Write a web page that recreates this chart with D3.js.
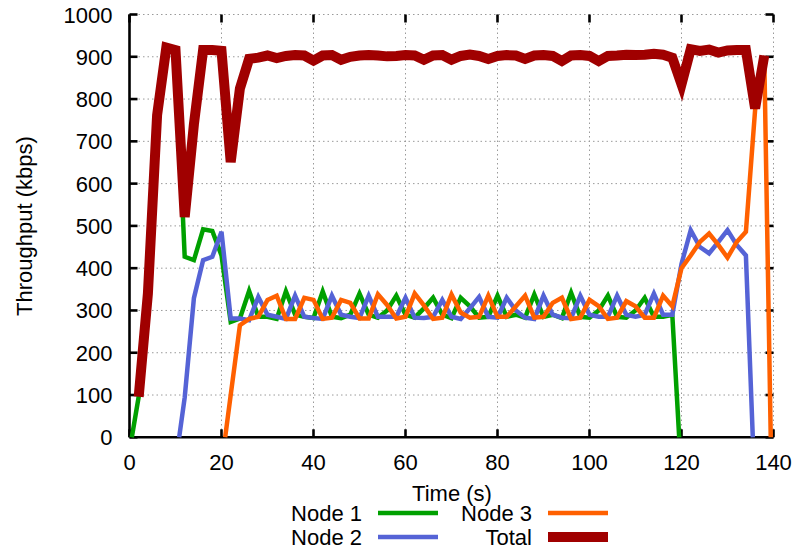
<!DOCTYPE html>
<html>
<head>
<meta charset="utf-8">
<script src="https://cdn.jsdelivr.net/npm/d3@7"></script>
<style>
  body { margin: 0; background: #fff; }
  text { font-family: "Liberation Sans", Arial, sans-serif; fill: #000; }
</style>
</head>
<body>
<div id="chart-area"></div>
<script>
// sample times (s), one every 2 s
var time = [0, 2, 4, 6, 8, 10, 12, 14, 16, 18, 20, 22, 24, 26, 28, 30, 32, 34, 36, 38,
    40, 42, 44, 46, 48, 50, 52, 54, 56, 58, 60, 62, 64, 66, 68, 70, 72, 74, 76, 78,
    80, 82, 84, 86, 88, 90, 92, 94, 96, 98, 100, 102, 104, 106, 108, 110, 112, 114, 116, 118,
    120, 122, 124, 126, 128, 130, 132, 134, 136, 138, 140];

// throughput (kbps), null = node not sending
var node1 = [null, 96, 340, 762, 922, 916, 427, 419, 492, 488, 430, 273, 281, 346, 285, 285, 280, 345, 290, 285,
    282, 345, 285, 282, 290, 340, 290, 283, 300, 335, 290, 283, 305, 330, 290, 282, 330, 310, 283, 285,
    335, 285, 290, 283, 338, 285, 290, 282, 342, 285, 283, 300, 335, 285, 283, 300, 330, 285, 285, 290,
    null, null, null, null, null, null, null, null, null, null, null];
var node2 = [null, null, null, null, null, null, 94, 329, 419, 427, 486, 281, 281, 277, 332, 290, 285, 280, 335, 285,
    282, 280, 335, 290, 285, 282, 335, 285, 285, 285, 330, 283, 282, 285, 325, 285, 280, 305, 332, 285,
    283, 330, 300, 283, 280, 335, 290, 283, 282, 335, 290, 285, 285, 335, 290, 285, 290, 340, 290, 290,
    410, 490, 450, 435, 462, 490, 455, 430, null, null, null];
var node3 = [null, null, null, null, null, null, null, null, null, null, null, 100, 265, 280, 285, 325, 335, 280, 280, 330,
    325, 280, 283, 325, 318, 281, 281, 338, 313, 281, 285, 340, 312, 280, 283, 338, 295, 283, 285, 335,
    285, 285, 310, 335, 283, 285, 318, 330, 280, 283, 325, 310, 280, 283, 322, 310, 283, 283, 335, 310,
    400, 430, 462, 482, 455, 425, 462, 486, 774, 895, null];
var total = [null, 96, 340, 762, 922, 916, 521, 740, 916, 916, 914, 651, 825, 895, 898, 903, 897, 902, 904, 903,
    891, 903, 904, 893, 900, 903, 904, 903, 901, 902, 904, 903, 893, 903, 904, 893, 902, 905, 902, 895,
    902, 904, 903, 895, 903, 904, 902, 890, 903, 904, 902, 890, 902, 903, 905, 904, 905, 907, 905, 898,
    835, 918, 914, 917, 910, 915, 916, 916, 778, 903, null];

// time where each node's trace leaves / returns to zero
var startTimes = [0.5, 10.8, 20.8];
var stopTimes = [119.5, 135.5, 139.4];

var names = ["Node 1", "Node 2", "Node 3", "Total"];
var colors = ["#00a000", "#5563d6", "#ff6000", "#a00000"];

var xTicks = [0, 20, 40, 60, 80, 100, 120, 140];
var yTicks = [0, 100, 200, 300, 400, 500, 600, 700, 800, 900, 1000];

var W = 798, H = 551;
var plotL = 129.5, plotR = 773.5, plotT = 14.5, plotB = 437.3;

var svg = d3.select("#chart-area").append("svg")
    .attr("width", W)
    .attr("height", H);

var x = d3.scaleLinear().domain([0, 140]).range([plotL, plotR]);
var y = d3.scaleLinear().domain([0, 1000]).range([plotB, plotT]);

// grid
var grid = svg.append("g").attr("stroke", "#9a9a9a").attr("stroke-width", 1)
    .attr("stroke-dasharray", "1.5,3");
grid.selectAll(".gx").data(xTicks.slice(1)).enter().append("line")
    .attr("x1", d => x(d)).attr("x2", d => x(d))
    .attr("y1", plotT).attr("y2", plotB);
grid.selectAll(".gy").data(yTicks.slice(1)).enter().append("line")
    .attr("x1", plotL).attr("x2", plotR)
    .attr("y1", d => y(d)).attr("y2", d => y(d));

// axes: bottom/left solid, ticks mirrored inward on all sides
var tickLen = 8;
var axes = svg.append("g").attr("stroke", "#000").attr("stroke-width", 2.6);
axes.append("line").attr("x1", plotL).attr("x2", plotR).attr("y1", plotB).attr("y2", plotB);
axes.append("line").attr("x1", plotL).attr("x2", plotL).attr("y1", plotT).attr("y2", plotB);
xTicks.forEach(function(t) {
    axes.append("line").attr("x1", x(t)).attr("x2", x(t)).attr("y1", plotB).attr("y2", plotB - tickLen);
    axes.append("line").attr("x1", x(t)).attr("x2", x(t)).attr("y1", plotT).attr("y2", plotT + tickLen);
});
yTicks.forEach(function(v) {
    axes.append("line").attr("x1", plotL).attr("x2", plotL + tickLen).attr("y1", y(v)).attr("y2", y(v));
    axes.append("line").attr("x1", plotR).attr("x2", plotR - tickLen).attr("y1", y(v)).attr("y2", y(v));
});

// tick labels
svg.append("g").selectAll("text").data(xTicks).enter().append("text")
    .attr("x", d => x(d))
    .attr("y", plotB + 33)
    .attr("text-anchor", "middle")
    .attr("font-size", "22px")
    .text(d => d);
svg.append("g").selectAll("text").data(yTicks).enter().append("text")
    .attr("x", plotL - 17)
    .attr("y", d => y(d) + 8)
    .attr("text-anchor", "end")
    .attr("font-size", "22px")
    .text(d => d);

// axis labels
svg.append("text")
    .attr("x", 452)
    .attr("y", 501)
    .attr("text-anchor", "middle")
    .attr("font-size", "22px")
    .text("Time (s)");
svg.append("text")
    .attr("transform", "translate(32, 226) rotate(-90)")
    .attr("text-anchor", "middle")
    .attr("font-size", "22px")
    .text("Throughput (kbps)");

// series
function points(vals, i) {
    var pts = [];
    time.forEach(function(t, k) {
        if (vals[k] != null) pts.push([t, vals[k]]);
    });
    if (i < 3) {
        pts.unshift([startTimes[i], 0]);
        pts.push([stopTimes[i], 0]);
    }
    return pts;
}

var line = d3.line()
    .x(d => x(d[0]))
    .y(d => y(d[1]));

var series = [node1, node2, node3, total];
var widths = [4.5, 4.5, 4.5, 10];

svg.append("g").selectAll("path").data(series).enter().append("path")
    .attr("d", (d, i) => line(points(d, i)))
    .attr("fill", "none")
    .attr("stroke", (d, i) => colors[i])
    .attr("stroke-width", (d, i) => widths[i])
    .attr("stroke-linejoin", "miter");

// legend, two columns
var legendPos = [[362, 513], [362, 537], [532, 513], [532, 537]];
var legend = svg.append("g");
names.forEach(function(name, i) {
    var p = legendPos[i];
    legend.append("text")
        .attr("x", p[0])
        .attr("y", p[1] + 8)
        .attr("text-anchor", "end")
        .attr("font-size", "22px")
        .text(name);
    legend.append("line")
        .attr("x1", p[0] + 16).attr("x2", p[0] + 76)
        .attr("y1", p[1]).attr("y2", p[1])
        .attr("stroke", colors[i])
        .attr("stroke-width", widths[i]);
});
</script>
</body>
</html>
